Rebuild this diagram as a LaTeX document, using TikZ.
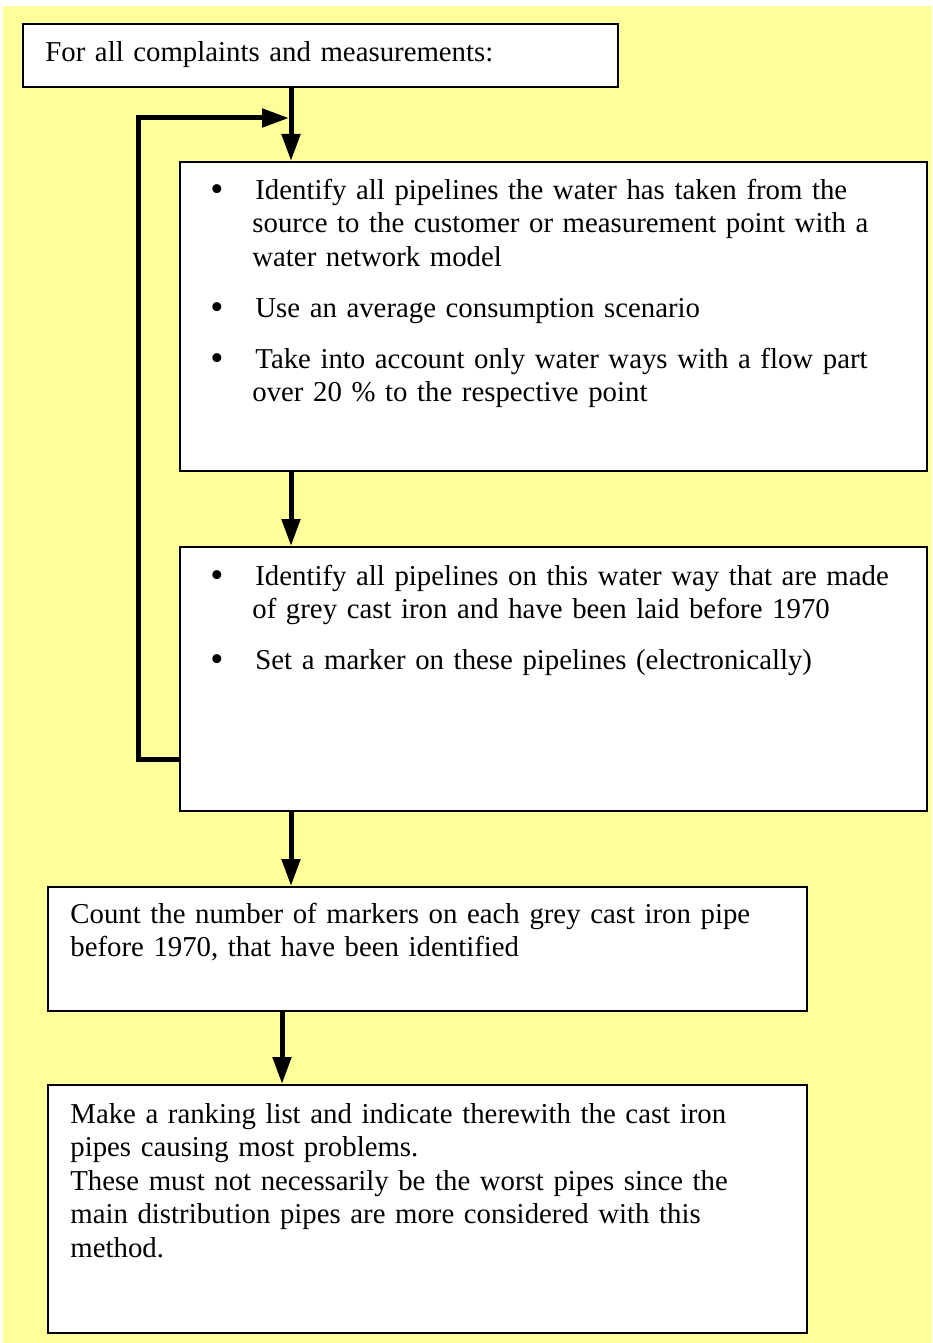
\documentclass[tikz,border=0pt]{standalone}
\usepackage{fontspec}
\setmainfont{Liberation Serif}
\usetikzlibrary{arrows.meta}

\definecolor{notepad}{HTML}{FFFF99}
\newcommand{\dotmark}{\makebox[22.5pt][l]{\raisebox{-1.2pt}{\scalebox{1.3}{\textbullet}}}}
\newcommand{\dotindent}{\hspace*{21pt}}

\begin{document}
\begin{tikzpicture}[x=0.5pt, y=-0.5pt,
  stage/.style={draw, line width=1pt, fill=white, anchor=north west, inner sep=0pt},
  words/.style={anchor=base west, inner sep=0pt, text width=#1, align=left,
    font=\fontsize{14.4}{16.75}\selectfont},
  words/.default=360pt,
  flow/.style={line width=2.5pt, -{Triangle[length=13.5pt, width=9pt]}}
]

% Page and background
\useasboundingbox (0,0) rectangle (932,1343);
\fill[notepad] (3,6) rectangle (932,1343);

% Boxes
\node[stage, minimum width=297.5pt, minimum height=31.5pt] (start) at (22,23) {};
\node[stage, minimum width=373.5pt, minimum height=154.5pt] (trace) at (179,161) {};
\node[stage, minimum width=373.5pt, minimum height=132pt] (mark) at (179,546) {};
\node[stage, minimum width=379.5pt, minimum height=62pt] (count) at (47,886) {};
\node[stage, minimum width=379.5pt, minimum height=124pt] (rank) at (47,1084) {};

% Texts
\node[words] (start text) at ([shift={(23,39)}]start.north west)
  {For all complaints and measurements:};
\node[words] (trace text) at ([shift={(31,38)}]trace.north west)
  {\dotmark Identify all pipelines the water has taken from the\\
   \dotindent source to the customer or measurement point with a\\
   \dotindent water network model\\[8.75pt]
   \dotmark Use an average consumption scenario\\[8.75pt]
   \dotmark Take into account only water ways with a flow part\\
   \dotindent over 20 \% to the respective point};
\node[words] (mark text) at ([shift={(31,39)}]mark.north west)
  {\dotmark Identify all pipelines on this water way that are made\\
   \dotindent of grey cast iron and have been laid before 1970\\[8.75pt]
   \dotmark Set a marker on these pipelines (electronically)};
\node[words] (count text) at ([shift={(23,37)}]count.north west)
  {Count the number of markers on each grey cast iron pipe\\
   before 1970, that have been identified};
\node[words] (rank text) at ([shift={(23,39)}]rank.north west)
  {Make a ranking list and indicate therewith the cast iron\\
   pipes causing most problems.\\
   These must not necessarily be the worst pipes since the\\
   main distribution pipes are more considered with this\\
   method.};

% Arrow columns and the loop corner
\coordinate (merge) at (291,118);
\coordinate (back) at (138,759);
\coordinate (lastcol) at (282,0);

% Arrows down
\draw[flow] (start.south -| merge) -- (trace.north -| merge);
\draw[flow] (trace.south -| merge) -- (mark.north -| merge);
\draw[flow] (mark.south -| merge) -- (count.north -| merge);
\draw[flow] (count.south -| lastcol) -- (rank.north -| lastcol);

% Loop back to the start
\draw[flow, shorten >=1pt] (mark.west |- back) -- (back) |- (merge);

\end{tikzpicture}
\end{document}
